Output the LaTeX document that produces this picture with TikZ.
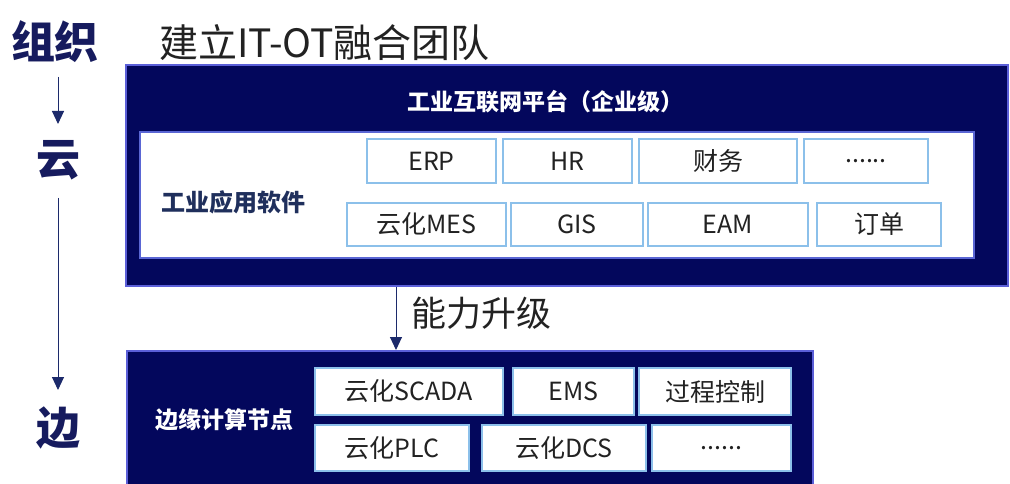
\documentclass[tikz,border=0pt]{standalone}
\usepackage{fontspec}
\setmainfont{Noto Sans CJK SC}
\usetikzlibrary{arrows.meta}
\definecolor{navy}{HTML}{03075C}
\definecolor{navyborder}{HTML}{5B5FD8}
\definecolor{inborder}{HTML}{5A66D4}
\definecolor{lblue}{HTML}{8CC0EA}
\definecolor{headtxt}{HTML}{161B5E}
\definecolor{subtxt}{HTML}{1F2F5C}
\definecolor{graytxt}{HTML}{222222}
\definecolor{arrowc}{HTML}{1C2A6B}
\tikzset{
  fs/.style={font=\fontsize{#1}{#1}\selectfont},
  bigbox/.style={draw=navyborder, line width=2pt, fill=navy, rectangle, inner sep=0pt},
  whitebox/.style={draw=inborder, line width=2pt, fill=white, rectangle, inner sep=0pt},
  appbox/.style={draw=lblue, line width=2.2pt, fill=white, rectangle, inner sep=0pt,
     text=graytxt, font=\fontsize{25}{25}\selectfont},
  edgebox/.style={appbox, line width=2.8pt},
  sidehead/.style={text=headtxt, font=\fontsize{44}{44}\selectfont\bfseries},
  flowarrow/.style={draw=arrowc, line width=1pt, -{Triangle[width=12pt,length=13pt]}},
}
\begin{document}
\begin{tikzpicture}[x=1pt,y=-1pt]
\useasboundingbox (0,0) rectangle (1010,484);
\fill[white] (0,0) rectangle (1010,484);
\clip (0,0) rectangle (1010,484);

% left column
\node[sidehead] (org) at (55,42) {组织};
\node[sidehead] (cloud) at (58,160) {云};
\node[sidehead] (edge) at (58,428) {边};
\coordinate (a1s) at (58,77);
\coordinate (a1e) at (58,124);
\coordinate (a2s) at (58,198);
\coordinate (a2e) at (58,390);
\draw[flowarrow] (a1s) -- (a1e);
\draw[flowarrow] (a2s) -- (a2e);

% title
\node[anchor=west, text=graytxt, fs=39] (title) at (156,43) {建立IT-OT融合团队};

% top platform box
\node[bigbox, minimum width=882pt, minimum height=221pt] (plat) at (567,175.5) {};
\node[text=white, font=\fontsize{23}{23}\selectfont\bfseries] (plattitle) at (545,102) {工业互联网平台（企业级）};
\node[whitebox, minimum width=834pt, minimum height=126pt] (apps) at (557,195) {};
\node[text=subtxt, font=\fontsize{24}{24}\selectfont\bfseries] (appslabel) at (233,202) {工业应用软件};

\node[appbox, minimum width=129pt, minimum height=44pt] (erp) at (431.5,161) {ERP};
\node[appbox, minimum width=129pt, minimum height=44pt] (hr) at (567.5,161) {HR};
\node[appbox, minimum width=158pt, minimum height=44pt] (fin) at (718,161) {财务};
\node[appbox, minimum width=124pt, minimum height=44pt] (dots1) at (866,161) {......};
\node[appbox, minimum width=159pt, minimum height=43pt] (mes) at (426.5,224.5) {云化MES};
\node[appbox, minimum width=132pt, minimum height=43pt] (gis) at (577,224.5) {GIS};
\node[appbox, minimum width=160pt, minimum height=43pt] (eam) at (728,224.5) {EAM};
\node[appbox, minimum width=124pt, minimum height=43pt] (order) at (879,224.5) {订单};

% edge box
\node[bigbox, minimum width=686pt, minimum height=160pt, anchor=north west] (edgenode) at (126,350) {};
\node[text=white, font=\fontsize{23}{23}\selectfont\bfseries] (edgelabel) at (224,420) {边缘计算节点};

\node[edgebox, minimum width=188pt, minimum height=47pt] (scada) at (409,391.5) {云化SCADA};
\node[edgebox, minimum width=121pt, minimum height=47pt] (ems) at (573.5,391.5) {EMS};
\node[edgebox, minimum width=152pt, minimum height=47pt] (proc) at (715,391.5) {过程控制};
\node[edgebox, minimum width=154pt, minimum height=46pt] (plc) at (392,448) {云化PLC};
\node[edgebox, minimum width=164pt, minimum height=46pt] (dcs) at (564,448) {云化DCS};
\node[edgebox, minimum width=139pt, minimum height=46pt] (dots2) at (721.5,448) {......};

% capability upgrade arrow
\coordinate (upS) at (396,287);
\coordinate (upE) at (396,350);
\draw[flowarrow] (upS) -- (upE);
\node[anchor=west, text=graytxt, fs=35] (upgrade) at (408,313) {能力升级};
\end{tikzpicture}
\end{document}
